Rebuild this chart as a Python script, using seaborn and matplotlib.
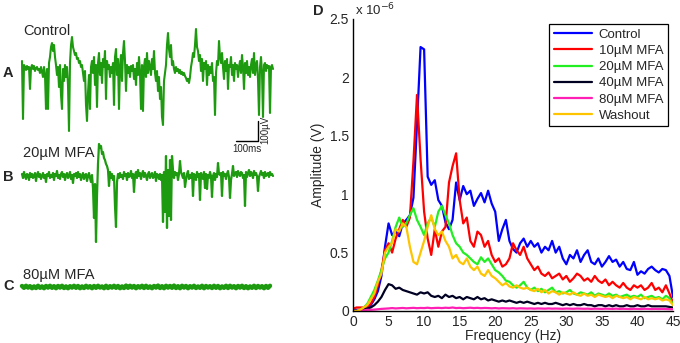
import numpy as np
import pandas as pd
import seaborn as sns
import matplotlib.pyplot as plt

# ---- left: raw traces (uV, relative to baseline, 1 sample per pixel) ----
trace_control = [
    40, -250, 20, 10, -5, 15, 0, 10, -100, 5,
    20, 0, 15, -10, 5, 10, -5, 0, -20, 10,
    -15, -40, 10, -30, -200, 0, -200, 30, 60, 110,
    130, 90, 120, 60, 20, -30, 10, -90, 20, -130,
    -200, 0, -60, 20, -40, 10, -80, -310, 30, 120,
    160, 110, 90, 70, 80, 50, 55, 30, 40, 10,
    20, -20, -60, -10, -180, -260, -120, -30, -200, 10,
    40, -20, 60, -80, 20, -190, 30, 80, -30, 30,
    -70, 50, 10, 90, -150, 40, 0, 20, -40, 10,
    -20, 30, -180, 60, 100, -30, 50, -200, 10, 70,
    -60, 80, 140, 40, -110, 20, -20, 10, -40, 15,
    -10, 20, -50, 0, -80, 30, -30, 60, -20, -200,
    20, -210, 10, 50, -40, 80, -20, 40, 10, -30,
    50, 0, 90, -20, -60, -10, -110, -40, -150, -90,
    -240, -280, -60, -20, 20, 120, 180, 100, 60, 120,
    20, 40, 0, -20, 10, -10, 0, -20, -5, -25,
    -15, -30, -20, -35, -45, -60, -50, -70, -40, 10,
    40, 80, 60, 120, 200, 110, 90, 40, 70, -10,
    50, -60, 30, 0, 40, -80, 20, -30, 10, -20,
    30, -60, -40, -230, -20, 40, 20, 140, 60, 30,
    80, 10, -50, 40, -10, 50, -100, 20, 10, 60,
    -30, 20, -60, 30, 0, 20, -40, 10, 40, -20,
    70, 10, -100, 30, -20, 40, -30, 10, -40, 20,
    50, -20, 80, -30, 20, 40, -50, -230, 10, 60,
    -20, -240, 20, 30, -10, 20, 5, 15, -220, 10,
    20, 0,
]
trace_20 = [
    10, -10, 20, 0, -15, 10, 5, -20, 15, -5,
    10, -10, 0, 15, -25, 5, 20, -5, 10, -15,
    0, 15, -10, 5, -30, 10, 0, 20, -10, 5,
    -5, 15, -20, 10, 0, 25, -10, 5, -15, 10,
    20, -5, 10, -20, 5, 15, -10, 0, 20, -15,
    5, -35, 10, 0, 15, -10, 20, -5, 10, -20,
    0, 15, -15, 5, 10, -25, 0, 15, -10, -30,
    5, -60, -210, -40, -330, -100, 60, 160, 140, 150,
    110, 120, 90, 80, 60, 50, 30, -50, 20, -10,
    10, -20, 0, -150, -255, -30, 10, -10, 15, -5,
    5, -15, 20, 0, 10, -20, 15, -5, 0, 25,
    -10, 10, -80, 5, 20, -10, 30, 0, 15, -15,
    10, 25, -5, 15, 0, -20, 10, 20, -10, 5,
    15, -10, 0, 20, -25, 10, 5, -15, 10, -20,
    5, -230, 20, -180, 100, -260, 30, -200, 80, -220,
    100, 30, -10, 20, 5, 15, -20, 10, 75, 20,
    5, -10, 15, -55, -20, 10, 25, -15, 5, -10,
    15, -100, 10, 0, -20, 20, -5, 10, -120, 15,
    0, -15, 20, -60, 10, -65, 5, -10, 20, 0,
    -105, 0, 15, -20, 10, -5, 65, 10, 5, 15,
    -100, 20, 0, 10, -15, 10, 25, -5, -110, -20,
    10, 50, 0, 15, 20, -5, 25, 10, 0, 20,
    15, -10, 5, -150, 20, -5, 15, 30, 0, 20,
    10, -10, 25, 5, 15, 0, -75, -5, 10, 25,
    5, 15, -10, 20, 0, 10, 15, -5, 20, 5,
    10, 0,
]
# 80uM: flat band, 1 sample per 2 pixels
trace_80 = [
    5, -4, 6, -3, 4, -6, 3, -5, 6, -4,
    3, -6, 5, -3, 6, -4, 4, -6, 5, -3,
    6, -5, 3, -6, 4, -3, 6, -4, 5, -6,
    3, -5, 6, -3, 4, -6, 5, -4, 6, -3,
    3, -6, 6, -5, 4, -3, 6, -4, 5, -6,
    3, -5, 7, -4, 6, -3, 5, -6, 4, -3,
    6, -5, 6, -4, 3, -6, 5, -3, 7, -5,
    4, -6, 6, -3, 5, -4, 7, -5, 4, -6,
    6, -3, 5, -6, 4, -3, 6, -5, 3, -4,
    6, -6, 5, -3, 4, -5, 6, -4, 5, -6,
    3, -4, 6, -5, 6, -3, 4, -6, 5, -3,
    6, -5, 4, -6, 3, -4, 6, -5, 5, -3,
    4, -6, 5, -4, 6,
]

# ---- right: amplitude spectra (x 1e-6 V), 0.5 Hz steps ----
freq = np.arange(0, 45.5, 0.5)
amp_control = [
    0.01, 0.01, 0.01, 0.02, 0.02, 0.05, 0.10, 0.17, 0.30, 0.55,
    0.75, 0.65, 0.68, 0.64, 0.75, 0.78, 0.82, 0.97, 1.60, 2.26,
    2.24, 1.15, 1.08, 1.12, 0.95, 0.90, 0.76, 0.70, 0.78, 1.10,
    0.95, 1.07, 1.00, 1.03, 0.90, 0.96, 1.01, 0.93, 1.03, 0.92,
    0.85, 0.60, 0.70, 0.78, 0.60, 0.53, 0.50, 0.58, 0.62, 0.55,
    0.60, 0.55, 0.58, 0.50, 0.55, 0.52, 0.60, 0.50, 0.55, 0.45,
    0.40, 0.48, 0.45, 0.52, 0.42, 0.48, 0.52, 0.42, 0.40, 0.45,
    0.38, 0.42, 0.47, 0.42, 0.44, 0.38, 0.42, 0.36, 0.35, 0.42,
    0.31, 0.34, 0.32, 0.36, 0.38, 0.35, 0.33, 0.36, 0.35, 0.30,
    0.12,
]
amp_10 = [
    0.02, 0.03, 0.03, 0.03, 0.04, 0.06, 0.12, 0.22, 0.35, 0.52,
    0.58, 0.50, 0.62, 0.70, 0.78, 0.72, 0.80, 1.28, 1.85, 1.30,
    0.85, 0.62, 0.48, 0.70, 0.55, 0.68, 0.72, 1.10, 1.24, 1.35,
    0.95, 0.75, 0.80, 0.60, 0.55, 0.68, 0.65, 0.55, 0.60, 0.48,
    0.42, 0.45, 0.38, 0.40, 0.45, 0.58, 0.52, 0.48, 0.55, 0.45,
    0.40, 0.35, 0.38, 0.32, 0.30, 0.33, 0.28, 0.30, 0.32, 0.27,
    0.30, 0.25, 0.28, 0.32, 0.30, 0.26, 0.28, 0.25, 0.30, 0.26,
    0.24, 0.27, 0.22, 0.25, 0.22, 0.20, 0.24, 0.20, 0.18, 0.22,
    0.20, 0.22, 0.18, 0.20, 0.24, 0.18, 0.20, 0.16, 0.22, 0.15,
    0.07,
]
amp_20 = [
    0.00, 0.00, 0.01, 0.03, 0.06, 0.12, 0.18, 0.26, 0.35, 0.45,
    0.50, 0.60, 0.72, 0.80, 0.72, 0.75, 0.82, 0.88, 0.78, 0.72,
    0.65, 0.75, 0.80, 0.72, 0.85, 0.90, 0.82, 0.75, 0.65, 0.58,
    0.55, 0.50, 0.48, 0.45, 0.42, 0.40, 0.46, 0.42, 0.45, 0.40,
    0.35, 0.33, 0.30, 0.26, 0.25, 0.22, 0.20, 0.22, 0.25, 0.20,
    0.18, 0.20, 0.17, 0.19, 0.16, 0.18, 0.20, 0.16, 0.17, 0.15,
    0.16, 0.18, 0.15, 0.14, 0.16, 0.15, 0.14, 0.16, 0.13, 0.15,
    0.14, 0.13, 0.15, 0.13, 0.14, 0.12, 0.13, 0.14, 0.12, 0.13,
    0.12, 0.14, 0.11, 0.12, 0.13, 0.11, 0.12, 0.10, 0.13, 0.11,
    0.06,
]
amp_40 = [
    0.00, 0.00, 0.00, 0.01, 0.02, 0.03, 0.05, 0.08, 0.12, 0.18,
    0.23, 0.22, 0.19, 0.20, 0.18, 0.17, 0.16, 0.15, 0.14, 0.16,
    0.15, 0.16, 0.13, 0.12, 0.13, 0.11, 0.14, 0.12, 0.13, 0.11,
    0.12, 0.10, 0.12, 0.11, 0.10, 0.12, 0.10, 0.11, 0.09, 0.10,
    0.09, 0.08, 0.09, 0.08, 0.09, 0.08, 0.07, 0.08, 0.07, 0.08,
    0.07, 0.06, 0.07, 0.06, 0.07, 0.06, 0.06, 0.07, 0.06, 0.05,
    0.06, 0.05, 0.06, 0.05, 0.05, 0.06, 0.05, 0.05, 0.04, 0.05,
    0.05, 0.04, 0.05, 0.04, 0.05, 0.04, 0.04, 0.05, 0.04, 0.04,
    0.05, 0.04, 0.04, 0.05, 0.04, 0.04, 0.04, 0.04, 0.04, 0.035,
    0.03,
]
amp_80 = [
    0.000, 0.000, 0.005, 0.005, 0.010, 0.010, 0.012, 0.015, 0.018, 0.020,
    0.022, 0.025, 0.022, 0.024, 0.026, 0.023, 0.025, 0.027, 0.024, 0.026,
    0.025, 0.028, 0.024, 0.026, 0.027, 0.025, 0.028, 0.026, 0.030, 0.025,
    0.027, 0.024, 0.026, 0.028, 0.025, 0.027, 0.024, 0.026, 0.025, 0.023,
    0.025, 0.022, 0.024, 0.023, 0.022, 0.024, 0.021, 0.023, 0.022, 0.021,
    0.022, 0.020, 0.022, 0.021, 0.020, 0.022, 0.020, 0.021, 0.020, 0.019,
    0.021, 0.020, 0.019, 0.021, 0.020, 0.019, 0.020, 0.018, 0.020, 0.019,
    0.018, 0.020, 0.019, 0.018, 0.020, 0.018, 0.019, 0.018, 0.017, 0.019,
    0.018, 0.017, 0.019, 0.018, 0.017, 0.018, 0.017, 0.018, 0.017, 0.016,
    0.015,
]
amp_wash = [
    0.00, 0.00, 0.01, 0.03, 0.05, 0.10, 0.15, 0.25, 0.32, 0.50,
    0.55, 0.58, 0.70, 0.68, 0.75, 0.72, 0.55, 0.42, 0.40, 0.50,
    0.60, 0.72, 0.82, 0.70, 0.65, 0.68, 0.60, 0.55, 0.45, 0.48,
    0.42, 0.40, 0.45, 0.38, 0.35, 0.38, 0.32, 0.30, 0.35, 0.30,
    0.28, 0.25, 0.22, 0.24, 0.21, 0.20, 0.22, 0.20, 0.19, 0.20,
    0.18, 0.17, 0.19, 0.16, 0.18, 0.15, 0.17, 0.16, 0.14, 0.16,
    0.15, 0.14, 0.16, 0.14, 0.13, 0.15, 0.13, 0.14, 0.12, 0.14,
    0.13, 0.12, 0.13, 0.11, 0.13, 0.12, 0.11, 0.12, 0.10, 0.12,
    0.11, 0.10, 0.12, 0.10, 0.11, 0.10, 0.11, 0.09, 0.10, 0.09,
    0.05,
]
conditions = ['Control', '10\u00b5M MFA', '20\u00b5M MFA', '40\u00b5M MFA',
              '80\u00b5M MFA', 'Washout']
line_colors = ['#0000ff', '#ff0000', '#22ee22', '#000022', '#ff1fb4', '#ffc400']

sns.set_style("white")
plt.rcParams['font.family'] = ['Liberation Sans', 'DejaVu Sans']

fig = plt.figure(figsize=(6.8, 3.43), dpi=100)
W, H = 680, 343

# ---------- traces A / B / C ----------
ms_px = 100 / 22.0   # ms per pixel
uv_px = 5.0          # uV per pixel
axl = fig.add_axes([0, 0, 300 / W, 1])
axl.set_xlim(-22 * ms_px, 278 * ms_px)
axl.set_ylim(0, H * uv_px)
axl.axis('off')

trace_green = '#1e9a10'
offsets = {'A': (343 - 69) * uv_px, 'B': (343 - 176) * uv_px, 'C': (343 - 287) * uv_px}
widths = {'A': 1.5, 'B': 1.6, 'C': 3.2}
for key, tr, step in [('A', trace_control, 1), ('B', trace_20, 1), ('C', trace_80, 2)]:
    t = np.arange(len(tr)) * ms_px * step
    sns.lineplot(x=t, y=np.array(tr) + offsets[key], ax=axl, color=trace_green,
                 lw=widths[key], estimator=None)

for lab, y in [('A', 73), ('B', 177), ('C', 286)]:
    fig.text(3 / W, 1 - y / H, lab, fontsize=10.5, fontweight='bold', va='center')
for lab, y in [('Control', 31), ('20\u00b5M MFA', 153), ('80\u00b5M MFA', 275)]:
    fig.text(23 / W, 1 - y / H, lab, fontsize=10.5, va='center')

# scale bar: 100 ms x 100 uV
cx, cy = (258 - 22) * ms_px, (343 - 141) * uv_px
axl.plot([cx - 100, cx, cx], [cy, cy, cy + 100], color='black', lw=1.0)
fig.text(247 / W, 1 - 149 / H, '100ms', fontsize=7, ha='center', va='center')
fig.text(265 / W, 1 - 130 / H, '100\u00b5V', fontsize=7, ha='center', va='center',
         rotation=90)

# ---------- panel D ----------
ax = fig.add_axes([353 / W, 1 - 311 / H, 320 / W, 292 / H])
df = pd.DataFrame({
    'freq': np.tile(freq, 6),
    'amp': np.concatenate([amp_control, amp_10, amp_20, amp_40, amp_80, amp_wash]),
    'cond': np.repeat(conditions, len(freq)),
})
sns.lineplot(data=df, x='freq', y='amp', hue='cond', hue_order=conditions,
             palette=dict(zip(conditions, line_colors)), lw=1.6, ax=ax,
             estimator=None)

ax.set_xlim(0, 45)
ax.set_ylim(0, 2.5)
ax.set_xticks(np.arange(0, 46, 5))
ax.set_yticks([0, 0.5, 1, 1.5, 2, 2.5])
ax.set_yticklabels(['0', '0.5', '1', '1.5', '2', '2.5'])
ax.tick_params(direction='in', length=4, width=0.8, labelsize=10, pad=3)
for s in ['top', 'right']:
    ax.spines[s].set_visible(False)
for s in ['left', 'bottom']:
    ax.spines[s].set_linewidth(1.0)
    ax.spines[s].set_color('black')
ax.set_xlabel('Frequency (Hz)', fontsize=10, labelpad=0)
ax.set_ylabel('Amplitude (V)', fontsize=10, labelpad=3)

leg = ax.legend(loc='upper right', bbox_to_anchor=(1 - 5 / 320, 1 - 5 / 292),
                borderaxespad=0, fancybox=False, edgecolor='black', fontsize=9.5,
                handlelength=2.9, handletextpad=0.5, labelspacing=0.3,
                borderpad=0.35, framealpha=1)
leg.get_frame().set_linewidth(0.9)

fig.text(355 / W, 1 - 10 / H, 'x 10$^{-6}$', fontsize=9.5, va='center')
fig.text(313 / W, 1 - 11 / H, 'D', fontsize=10.5, fontweight='bold', va='center')

fig.savefig('out.png', dpi=100)
